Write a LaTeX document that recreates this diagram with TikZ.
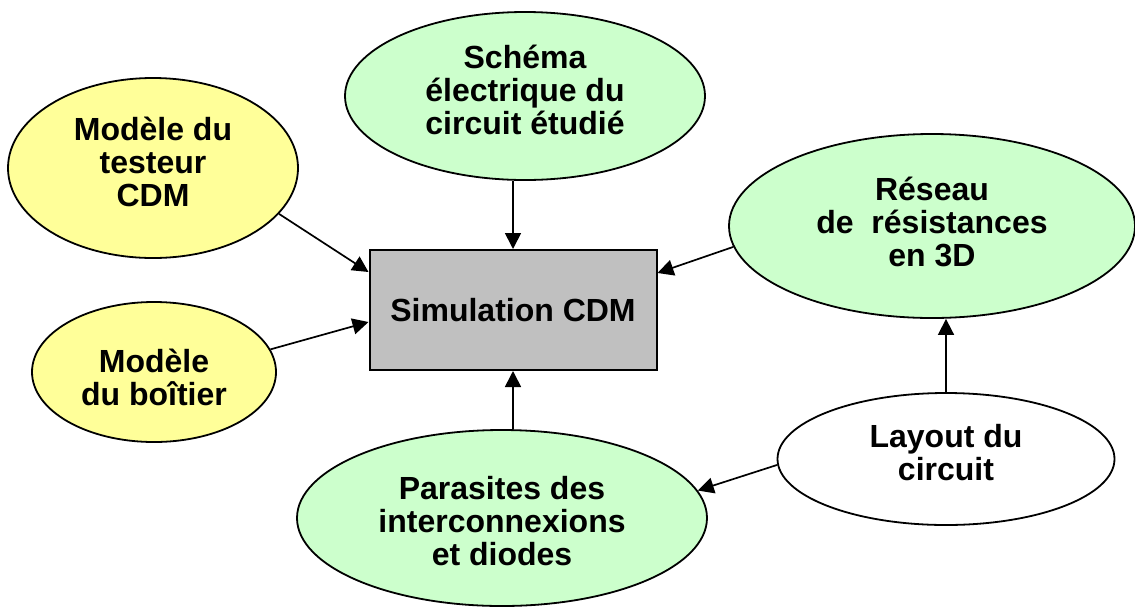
\documentclass[tikz,border=0pt]{standalone}
\usepackage{fontspec}
\setmainfont{Liberation Sans}
\usetikzlibrary{shapes.geometric,arrows.meta}
\definecolor{jaune}{HTML}{FFFF99}
\definecolor{vert}{HTML}{CCFFCC}
\definecolor{gris}{HTML}{C0C0C0}
\begin{document}
\begin{tikzpicture}[x=1pt, y=-1pt,
    texte/.style={font=\fontsize{32}{33}\selectfont\bfseries, align=center},
    bulle/.style={ellipse, draw, line width=1.8pt, inner sep=0pt},
    fleche/.style={-{Triangle[length=16pt,width=16pt]}, line width=1.7pt}]
    \useasboundingbox (0,0) rectangle (1135,606);

    \node[texte, draw, line width=2pt, fill=gris, minimum width=287pt, minimum height=120pt] (sim) at (513,310) {Simulation CDM};

    % ellipses
    \node[bulle, fill=vert, minimum width=360pt, minimum height=168pt] (schema) at (525,96) {};
    \node[bulle, fill=jaune, minimum width=290pt, minimum height=180pt] (testeur) at (153,168) {};
    \node[bulle, fill=jaune, minimum width=244pt, minimum height=140pt] (boitier) at (154,372) {};
    \node[bulle, fill=vert, minimum width=406pt, minimum height=184pt] (reseau) at (932,226) {};
    \node[bulle, fill=white, minimum width=337pt, minimum height=132pt] (layout) at (946,459) {};
    \node[bulle, fill=vert, minimum width=410pt, minimum height=176pt] (parasites) at (502,518) {};

    % textes
    \node[texte] (schema-t) at (525,90) {Schéma\\électrique du\\circuit étudié};
    \node[texte] (testeur-t) at (153,162) {Modèle du\\testeur\\CDM};
    \node[texte] (boitier-t) at (154,377) {Modèle\\du boîtier};
    \node[texte] (reseau-t) at (932,222) {Réseau\\de\ \ résistances\\en 3D};
    \node[texte] (layout-t) at (946,453) {Layout du\\circuit};
    \node[texte] (parasites-t) at (502,521) {Parasites des\\interconnexions\\et diodes};

    \draw[fleche] (testeur.-20.6) -- ([yshift=38pt]sim.west);
    \draw[fleche] (boitier.11.7) -- ([yshift=-12pt]sim.west);
    \draw[fleche] (sim.north |- schema.south) -- (sim.north);
    \draw[fleche] (reseau.186.3) -- ([yshift=37pt]sim.east);
    \draw[fleche] (sim.south |- parasites.north) -- (sim.south);
    \draw[fleche] (layout.north) -- (layout.north |- reseau.south);
    \draw[fleche] (layout.182) -- (parasites.8.8);
\end{tikzpicture}
\end{document}
